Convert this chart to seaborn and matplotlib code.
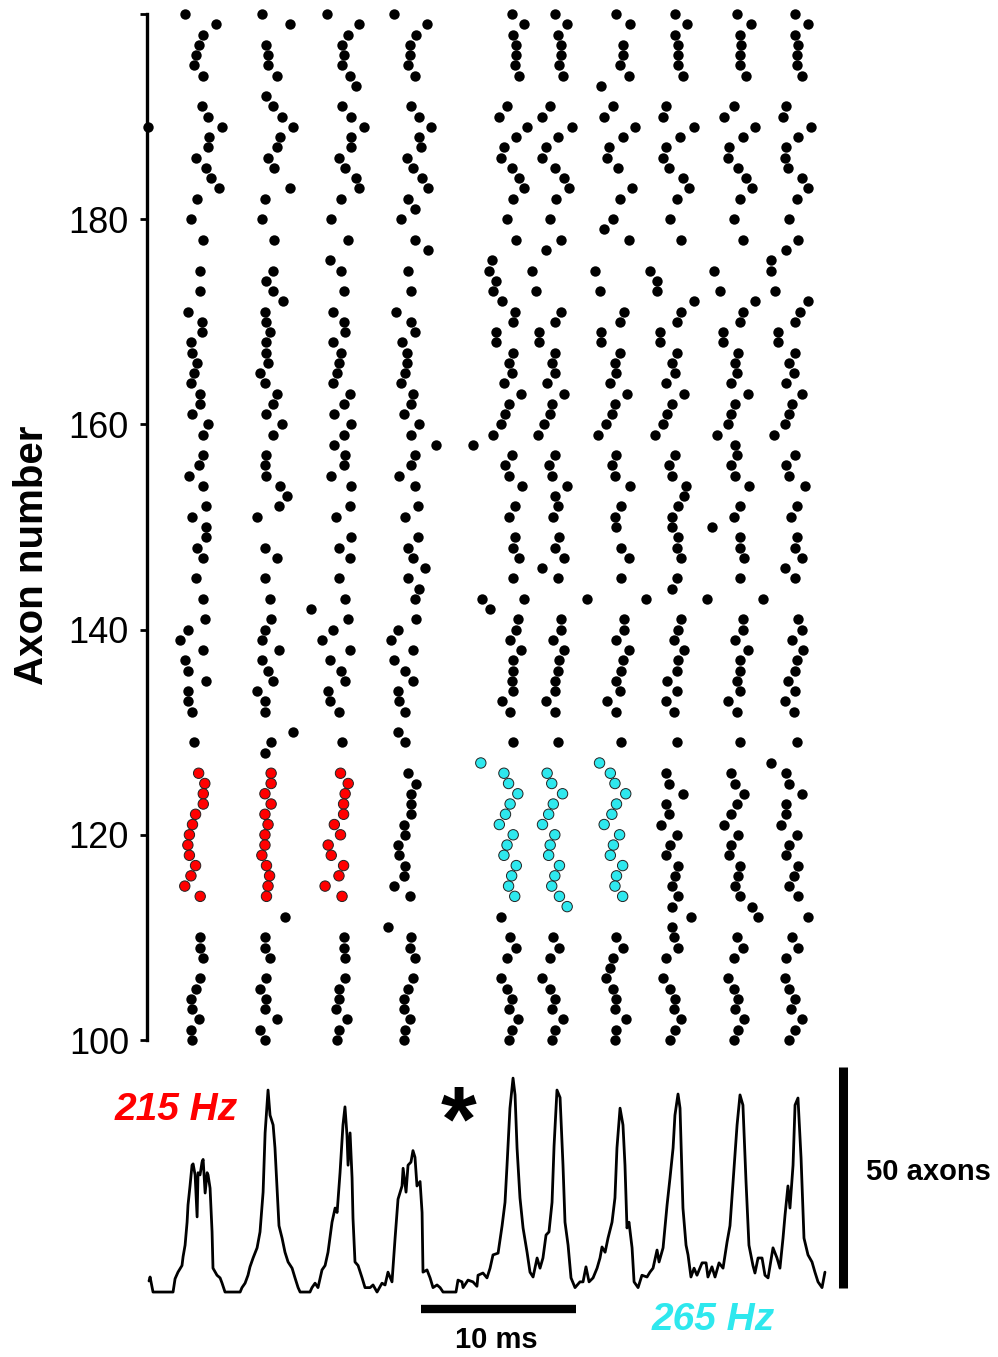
import numpy as np
import pandas as pd
import matplotlib
matplotlib.use("Agg")
import matplotlib.pyplot as plt
import seaborn as sns

N = np.nan
# axons listed from top (200) to bottom (100)
axons = list(range(200, 99, -1))

# spike times (ms) of each axon in each burst; NaN = no spike
burst_1 = [2.9, 4.9, 4.1, 3.8, 3.6, 3.5, 4.1, N, N, 4.0,
           4.4, 5.3, 4.5, 4.4, 3.6, 4.3, 4.6, 5.1, 3.7, N,
           3.3, N, 4.1, N, N, 3.9, N, 3.9, N, 3.1,
           4.0, 4.0, 3.3, 3.4, 3.7, 3.5, 3.3, 3.9, 3.9, 3.4,
           4.4, 4.1, N, 4.1, 3.8, 3.2, 4.1, N, 4.3, 3.4,
           4.3, 4.3, 3.7, 4.1, N, 3.6, N, 4.1, N, 4.2,
           3.1, 2.6, 4.1, 2.9, 3.1, 4.3, 3.1, 3.1, 3.4, N,
           N, 3.5, N, N, 3.8, 4.2, 4.1, 4.1, 3.6, 3.4,
           3.2, 3.1, 3.2, 3.6, 3.3, 2.9, 3.9, N, N, N,
           3.9, 3.9, 4.1, N, 3.9, 3.6, 3.3, 3.4, 3.8, 3.3,
           3.4]
burst_2 = [7.9, 9.7, N, 8.2, 8.3, 8.3, 8.9, N, 8.2, 8.6,
           9.2, 9.9, 9.1, 8.9, 8.3, 8.7, N, 9.7, 8.1, N,
           7.9, N, 8.7, N, N, 8.6, 8.2, 8.6, 9.3, 8.1,
           8.2, 8.4, 8.2, 8.2, 8.3, 7.8, 8.1, 8.9, 8.6, 8.2,
           9.2, 8.6, N, 8.2, 8.1, 8.2, 9.1, 9.5, 9.0, 7.6,
           N, N, 8.1, 8.9, N, 8.1, N, 8.4, N, 8.5,
           8.1, 7.9, 9.0, 7.9, 8.3, 8.6, 7.6, 8.1, 8.1, N,
           9.9, 8.5, 8.1, N, 8.5, 8.5, 8.1, 8.5, 8.1, 8.3,
           8.1, 8.1, 7.9, 8.2, 8.4, 8.3, 8.2, N, 9.4, N,
           8.1, 8.1, 8.4, N, 8.2, 7.8, 8.2, 8.1, 8.9, 7.8,
           8.1]
burst_3 = [12.1, 14.2, 13.5, 13.1, 13.2, 13.1, 13.6, 14.0, N, 13.1,
           13.7, 14.5, 13.7, 13.7, 12.9, 13.3, 14.0, 14.2, 13.0, N,
           12.4, N, 13.5, N, 12.3, 13.0, N, 13.2, N, 12.5,
           13.2, 13.3, 12.5, 13.0, 12.9, 12.8, 12.5, 13.6, 13.2, 12.6,
           13.7, 13.2, 12.6, 13.3, 13.2, 12.4, 13.7, N, 13.6, 12.7,
           N, 13.7, 12.9, 13.6, N, 12.9, N, 13.3, 11.1, 13.5,
           12.5, 11.8, 13.6, 12.3, 13.0, 13.3, 12.2, 12.3, 12.9, N,
           N, 13.1, N, N, 13.0, 13.5, 13.3, 13.2, 13.2, 12.6,
           13.0, 12.2, 12.4, 13.2, 12.9, 12.0, 13.1, N, N, N,
           13.2, 13.2, 13.3, N, 13.3, 12.9, 12.9, 12.7, 13.4, 12.9,
           12.8]
burst_4 = [16.5, 18.6, 17.9, 17.5, 17.5, 17.4, 17.8, N, N, 17.6,
           18.1, 18.9, 18.1, 18.2, 17.3, 17.7, 18.3, 18.7, 17.4, 17.8,
           16.9, N, 17.8, 18.7, N, 17.4, N, 17.6, N, 16.6,
           17.6, 17.8, 17.0, 17.3, 17.3, 17.2, 16.9, 17.7, 17.6, 17.1,
           18.1, 17.6, 19.2, 17.8, 17.6, 16.8, 17.8, N, 18.0, 17.2,
           N, 18.0, 17.4, 17.7, 18.5, 17.4, 18.1, 17.8, N, 17.9,
           16.7, 16.3, 17.7, 16.5, 17.2, 17.7, 16.7, 16.8, 17.2, N,
           16.7, 17.2, N, N, 17.4, 17.9, 17.6, 17.6, 17.6, 17.1,
           17.2, 16.7, 16.8, 17.2, 17.1, 16.5, 17.5, N, N, 16.1,
           17.6, 17.5, 17.8, N, 17.7, 17.4, 17.1, 17.1, 17.5, 17.2,
           17.1]
burst_5 = [24.1, 24.9, 24.2, 24.4, 24.4, 24.3, 24.6, N, N, 23.8,
           23.3, 25.1, 24.4, 23.6, 23.4, 24.1, 24.6, 24.9, 24.2, N,
           23.8, N, 24.4, N, 22.8, 22.6, 23.1, 22.9, 23.5, 24.3,
           24.2, 23.1, 23.1, 24.2, 23.9, 24.1, 23.6, 24.7, 23.9, 23.7,
           23.4, 22.9, 21.6, 24.1, 23.7, 23.9, 24.8, N, 24.3, 23.9,
           N, 24.3, 24.2, 24.6, N, 24.2, N, 22.2, 22.7, 24.5,
           24.4, 24.0, 24.7, 24.2, 24.2, 24.1, 24.2, 23.5, 24.0, N,
           N, 24.2, N, 22.1, 23.6, 23.9, 24.5, 24.0, 23.7, 23.3,
           24.2, 23.8, 23.6, 24.4, 24.1, 23.9, 24.3, N, 23.4, N,
           24.0, 24.4, 23.8, N, 23.4, 23.8, 24.1, 23.9, 24.5, 24.1,
           23.9]
burst_6 = [26.9, 27.7, 27.1, 27.3, 27.3, 27.2, 27.4, N, N, 26.6,
           26.1, 28.0, 27.1, 26.3, 26.1, 26.9, 27.5, 27.8, 27.0, N,
           26.6, N, 27.3, 26.3, N, 25.4, N, 25.7, N, 27.3,
           26.9, 25.9, 25.9, 26.9, 26.7, 26.9, 26.4, 27.5, 26.7, 26.6,
           26.2, 25.8, N, 26.9, 26.5, 26.7, 27.7, 26.9, 27.1, 26.8,
           N, 27.2, 26.9, 27.5, 26.1, 27.1, N, 24.9, N, 27.3,
           27.3, 26.8, 27.5, 27.2, 27.1, 26.9, 26.9, 26.3, 26.9, N,
           N, 27.1, N, N, 26.4, 26.7, 27.4, 26.8, 26.5, 26.1,
           26.9, 26.6, 26.5, 27.2, 26.9, 26.7, 27.2, 27.7, N, N,
           26.8, 27.2, 26.6, N, 26.1, 26.6, 26.9, 26.7, 27.4, 26.9,
           26.7]
burst_7 = [30.9, 31.8, N, 31.3, 31.3, 31.1, 31.7, 29.9, N, 30.7,
           30.1, 32.1, 31.3, 30.4, 30.3, 31.0, N, 31.9, 31.1, N,
           30.7, 30.1, 31.7, N, N, 29.5, N, 29.8, N, 31.4,
           31.1, 29.9, 29.9, 31.1, 30.8, 30.9, 30.5, 31.6, 30.8, 30.6,
           30.2, 29.7, N, 30.9, 30.6, 30.8, 31.8, N, 31.2, 30.8,
           30.9, N, 31.2, 31.7, N, 31.2, N, 29.0, N, 31.4,
           31.4, 30.9, 31.7, 31.3, 31.2, 30.9, 31.1, 30.3, 30.9, N,
           N, 31.2, N, 29.8, 30.5, 30.8, 31.5, 30.9, 30.6, 30.1,
           31.1, 30.7, 30.5, 31.3, 30.9, 30.8, 31.3, N, N, N,
           30.9, 31.3, 30.7, 30.5, 30.2, 30.7, 30.9, 30.8, 31.5, 30.9,
           30.8]
burst_8 = [34.7, 35.5, 34.7, 34.9, 34.9, 34.9, 35.2, N, N, 34.1,
           33.9, 35.9, 35.0, 34.1, 33.9, 34.3, 35.2, 35.6, 34.8, N,
           34.4, N, 35.1, N, N, 33.1, 33.5, 33.5, 35.9, 35.1,
           34.8, 33.7, 33.7, 34.8, 34.5, 34.7, 34.1, 35.3, 34.5, 34.2,
           33.9, 33.4, N, 34.7, 34.3, 34.5, 35.4, 35.3, 34.9, 34.5,
           34.5, 34.9, 34.8, 35.1, N, 34.8, 34.5, 32.8, N, 35.1,
           34.9, 34.6, 35.3, 34.9, 34.8, 34.2, 34.8, 34.1, 34.6, N,
           N, 34.8, N, N, 34.1, 34.3, 35.2, 34.1, 34.3, 33.8,
           34.8, 34.4, 34.1, 34.9, 34.7, 34.5, 34.9, 34.5, 35.7, 34.5,
           34.6, 34.9, 34.1, N, 33.9, 34.4, 34.7, 34.6, 35.1, 34.7,
           34.4]
burst_9 = [38.7, 39.6, 38.9, 39.0, 38.9, 38.9, 39.3, N, N, 38.5,
           37.9, 39.9, 39.1, 38.2, 38.1, 38.8, 39.3, 39.7, 38.9, N,
           38.5, N, 39.1, N, N, 37.2, N, 37.6, 39.9, 39.1,
           38.9, 37.8, 37.8, 38.8, 38.6, 38.7, 38.3, 39.4, 38.6, 38.3,
           38.1, 37.4, 38.6, 38.7, 38.3, 38.6, 39.5, N, 38.9, 38.5,
           37.1, 38.9, 38.9, 39.2, N, 38.9, N, 36.8, N, 39.1,
           39.1, 38.6, 39.4, 38.9, 38.9, 38.7, 38.9, 38.1, 38.7, N,
           N, 38.9, N, N, 38.3, 38.6, 39.2, 38.7, 38.3, 37.9,
           38.8, 38.3, 38.2, 38.9, 38.8, 38.6, 38.9, 39.7, 40.1, N,
           38.7, 39.1, 38.5, N, 38.1, 38.5, 38.8, 38.6, 39.2, 38.8,
           38.5]
burst_10 = [42.5, 43.3, 42.5, 42.7, 42.6, 42.6, 42.9, N, N, 41.9,
            41.7, 43.5, 42.7, 41.9, 41.8, 42.0, 42.9, 43.3, 42.6, N,
            42.1, N, 42.7, 41.9, 40.9, 40.9, N, 41.2, 43.3, 42.8,
            42.5, 41.4, 41.4, 42.5, 42.1, 42.4, 41.9, 42.9, 42.3, 42.1,
            41.8, 41.1, N, 42.5, 41.9, 42.1, 43.1, N, 42.6, 42.2,
            N, 42.6, 42.5, 42.9, 41.8, 42.5, N, 40.4, N, 42.7,
            42.9, 42.3, 43.0, 42.6, 42.5, 42.0, 42.5, 41.8, 42.4, N,
            N, 42.6, N, 40.9, 41.9, 42.1, 42.9, 41.9, 41.9, 41.6,
            42.6, 42.1, 41.9, 42.7, 42.4, 42.1, 42.7, N, 43.3, N,
            42.3, 42.7, 41.9, N, 41.8, 42.1, 42.5, 42.2, 42.9, 42.5,
            42.1]
# one early extra spike sitting on the axis
extra_axon = [189]
extra_time = [0.5]

# highlighted group of axons
highlight_axons = list(range(113, 128))
red_bursts = [1, 2, 3]
cyan_bursts = [5, 6, 7]

# population trace: number of spiking axons vs time (ms)
trace_time = [0.58, 0.65, 0.84, 2.14, 2.27, 2.46, 2.72, 2.79, 2.92, 3.05,
              3.11, 3.24, 3.37, 3.44, 3.57, 3.70, 3.76, 3.89, 4.02, 4.09,
              4.22, 4.35, 4.41, 4.54, 4.67, 4.73, 4.99, 5.19, 5.32, 5.51,
              6.49, 6.61, 6.81, 7.00, 7.13, 7.33, 7.59, 7.78, 7.98, 8.11,
              8.30, 8.43, 8.63, 8.75, 8.88, 9.01, 9.21, 9.40, 9.60, 9.86,
              10.05, 10.25, 10.38, 11.02, 11.15, 11.35, 11.54, 11.80, 12.00, 12.19,
              12.45, 12.65, 12.78, 12.97, 13.16, 13.29, 13.42, 13.49, 13.62, 13.75,
              13.81, 13.94, 14.14, 14.40, 14.59, 14.92, 15.11, 15.37, 15.69, 15.89,
              16.08, 16.34, 16.54, 16.73, 16.99, 17.06, 17.25, 17.38, 17.57, 17.70,
              17.83, 17.96, 18.16, 18.29, 18.35, 18.61, 18.81, 19.00, 19.26, 19.46,
              19.65, 20.49, 20.62, 20.88, 20.95, 21.27, 21.59, 21.85, 21.92, 22.24,
              22.50, 22.70, 22.89, 23.22, 23.48, 23.67, 23.80, 23.99, 24.19, 24.32,
              24.45, 24.64, 24.84, 25.10, 25.29, 25.49, 25.75, 25.94, 26.13, 26.33,
              26.52, 26.72, 26.85, 27.04, 27.24, 27.43, 27.56, 27.76, 27.95, 28.21,
              28.53, 28.73, 28.92, 29.12, 29.38, 29.64, 29.83, 29.96, 30.16, 30.35,
              30.61, 30.80, 30.93, 31.13, 31.32, 31.45, 31.58, 31.71, 31.91, 32.04,
              32.30, 32.55, 32.88, 33.07, 33.27, 33.53, 33.66, 33.92, 34.18, 34.37,
              34.57, 34.69, 34.89, 35.02, 35.21, 35.41, 35.54, 35.73, 35.93, 36.12,
              36.45, 36.71, 36.83, 37.09, 37.29, 37.55, 37.81, 38.07, 38.26, 38.46,
              38.72, 38.91, 39.10, 39.30, 39.49, 39.75, 39.88, 40.08, 40.34, 40.53,
              40.73, 40.92, 41.05, 41.31, 41.50, 41.70, 41.83, 42.02, 42.15, 42.35,
              42.48, 42.67, 42.87, 43.06, 43.32, 43.58, 43.77, 43.97, 44.23, 44.42]
trace_count = [2.5, 3.4, 0, 0, 3.0, 4.5, 6.0, 8.0, 10.6, 15.8,
               19.7, 24.0, 28.7, 29.0, 26.5, 17.0, 27.0, 26.5, 29.4, 30.0,
               22.4, 27.0, 26.5, 23.5, 13.6, 5.4, 3.8, 3.2, 2.0, 0,
               0, 1.0, 2.0, 3.8, 5.7, 7.7, 10.0, 13.6, 22.6, 36.0,
               45.7, 40.0, 37.8, 32.6, 24.0, 15.0, 12.2, 9.0, 6.8, 5.4,
               3.2, 1.0, 0, 0, 1.0, 2.0, 1.0, 5.0, 6.0, 9.0,
               15.8, 19.0, 18.0, 27.0, 37.8, 41.9, 35.5, 28.7, 36.0, 25.8,
               16.7, 6.8, 6.0, 3.2, 1.0, 1.0, 1.6, 0, 2.0, 1.6,
               4.5, 2.3, 12.2, 21.0, 24.0, 28.0, 22.6, 28.7, 29.4, 32.0,
               30.5, 24.0, 25.0, 18.0, 4.5, 5.0, 3.2, 1.0, 1.6, 1.0,
               0, 0, 2.7, 2.3, 1.0, 2.7, 2.3, 1.3, 3.8, 4.3,
               3.2, 5.4, 8.4, 8.8, 15.0, 20.3, 28.7, 41.6, 48.4, 44.6,
               32.6, 21.3, 14.5, 9.0, 4.5, 3.4, 7.7, 5.4, 7.7, 12.9,
               13.6, 20.3, 33.0, 45.7, 44.0, 28.7, 15.8, 10.6, 3.2, 1.0,
               2.3, 2.3, 5.7, 2.3, 3.2, 5.4, 7.7, 10.2, 9.0, 12.2,
               15.8, 21.3, 32.6, 41.6, 37.8, 28.7, 14.5, 15.8, 10.0, 2.3,
               1.0, 3.8, 3.4, 4.5, 5.4, 9.5, 6.8, 10.0, 19.7, 25.8,
               32.6, 40.0, 44.8, 41.6, 19.0, 10.6, 8.4, 3.4, 5.4, 3.8,
               6.6, 6.6, 3.4, 5.7, 3.4, 6.6, 5.4, 11.3, 15.0, 25.0,
               37.8, 44.6, 42.3, 25.0, 10.6, 6.0, 4.3, 7.7, 7.7, 3.8,
               3.2, 7.2, 10.0, 7.7, 5.4, 12.2, 17.4, 24.0, 19.0, 28.7,
               42.3, 43.9, 30.3, 12.2, 8.4, 6.8, 4.5, 2.3, 1.0, 4.5]

# ---------------------------------------------------------------- build table
bursts = [burst_1, burst_2, burst_3, burst_4, burst_5,
          burst_6, burst_7, burst_8, burst_9, burst_10]
rows = []
for b, times in enumerate(bursts, start=1):
    assert len(times) == len(axons), (b, len(times))
    for a, t in zip(axons, times):
        if np.isnan(t):
            continue
        grp = "black"
        if a in highlight_axons and b in red_bursts:
            grp = "red"
        elif a in highlight_axons and b in cyan_bursts:
            grp = "cyan"
        rows.append({"time": t, "axon": a, "group": grp})
for a, t in zip(extra_axon, extra_time):
    rows.append({"time": t, "axon": a, "group": "black"})
spikes = pd.DataFrame(rows)
trace = pd.DataFrame({"time": trace_time, "count": trace_count})

RED = "#ff0000"
CYAN = "#2ee8ee"

sns.set_theme(style="white")
plt.rcParams["font.family"] = ["Liberation Sans", "DejaVu Sans"]
plt.rcParams["text.color"] = "black"
plt.rcParams["axes.labelcolor"] = "black"
plt.rcParams["ytick.color"] = "black"
plt.rcParams["xtick.color"] = "black"

W, H = 998, 1357
fig = plt.figure(figsize=(W / 100, H / 100), dpi=100)
xl = (0.45, 46.0)
left = 147 / W
width = (140 + xl[1] * 15.42 - 147) / W
ax = fig.add_axes([left, (H - 1040) / H, width, 1026 / H])
ax2 = fig.add_axes([left, 0, width, 297 / H])

# ---------------------------------------------------------------- raster
black = spikes[spikes.group == "black"]
colored = spikes[spikes.group != "black"]
sns.scatterplot(data=black, x="time", y="axon", color="black", s=56,
                linewidth=0, ax=ax, clip_on=False, zorder=3)
sns.scatterplot(data=colored, x="time", y="axon", hue="group",
                palette={"red": RED, "cyan": CYAN}, s=56,
                edgecolor="#222222", linewidth=0.7, legend=False,
                ax=ax, clip_on=False, zorder=4)
ax.set_xlim(*xl)
ax.set_ylim(100, 200)
ax.set_xticks([])
ax.set_yticks([100, 120, 140, 160, 180, 200])
ax.set_yticklabels(["100", "120", "140", "160", "180", ""])
ax.tick_params(axis="y", left=True, direction="out", length=5, width=2,
               labelsize=26, pad=8, colors="black")
for s in ["top", "right", "bottom"]:
    ax.spines[s].set_visible(False)
ax.spines["left"].set_linewidth(2.4)
ax.spines["left"].set_color("black")
ax.set_xlabel("")
ax.set_ylabel("")
ax.patch.set_alpha(0)
fig.text(32 / W, 1 - 555 / H, "Axon number", rotation=90, fontsize=29,
         fontweight="bold", ha="center", va="center", color="black")

# ---------------------------------------------------------------- trace
sns.lineplot(data=trace, x="time", y="count", sort=False, estimator=None,
             color="black", linewidth=2.0, ax=ax2)
ax2.set_xlim(*xl)
ax2.set_ylim(-14.7, 52.5)
ax2.axis("off")
ax2.plot([18.25, 28.25], [-3.85, -3.85], color="black", lw=6,
         solid_capstyle="butt", clip_on=False)
ax2.plot([45.56, 45.56], [0.9, 50.9], color="black", lw=6.5,
         solid_capstyle="butt", clip_on=False)
ax2.text(2.33, 41.2, "215 Hz", color=RED, fontsize=28, fontweight="bold",
         fontstyle="italic", ha="center", va="center")
ax2.text(37.16, -6.3, "265 Hz", color=CYAN, fontsize=28, fontweight="bold",
         fontstyle="italic", ha="center", va="center")
ax2.text(20.69, 37.5, "*", fontsize=66, fontweight="bold",
         ha="center", va="center", color="black")
ax2.text(23.09, -10.9, "10 ms", fontsize=21, fontweight="bold",
         ha="center", va="center", color="black")
ax2.text(47.08, 27.1, "50 axons", fontsize=21, fontweight="bold",
         ha="left", va="center", clip_on=False, color="black")

fig.savefig("out.png", dpi=100)
